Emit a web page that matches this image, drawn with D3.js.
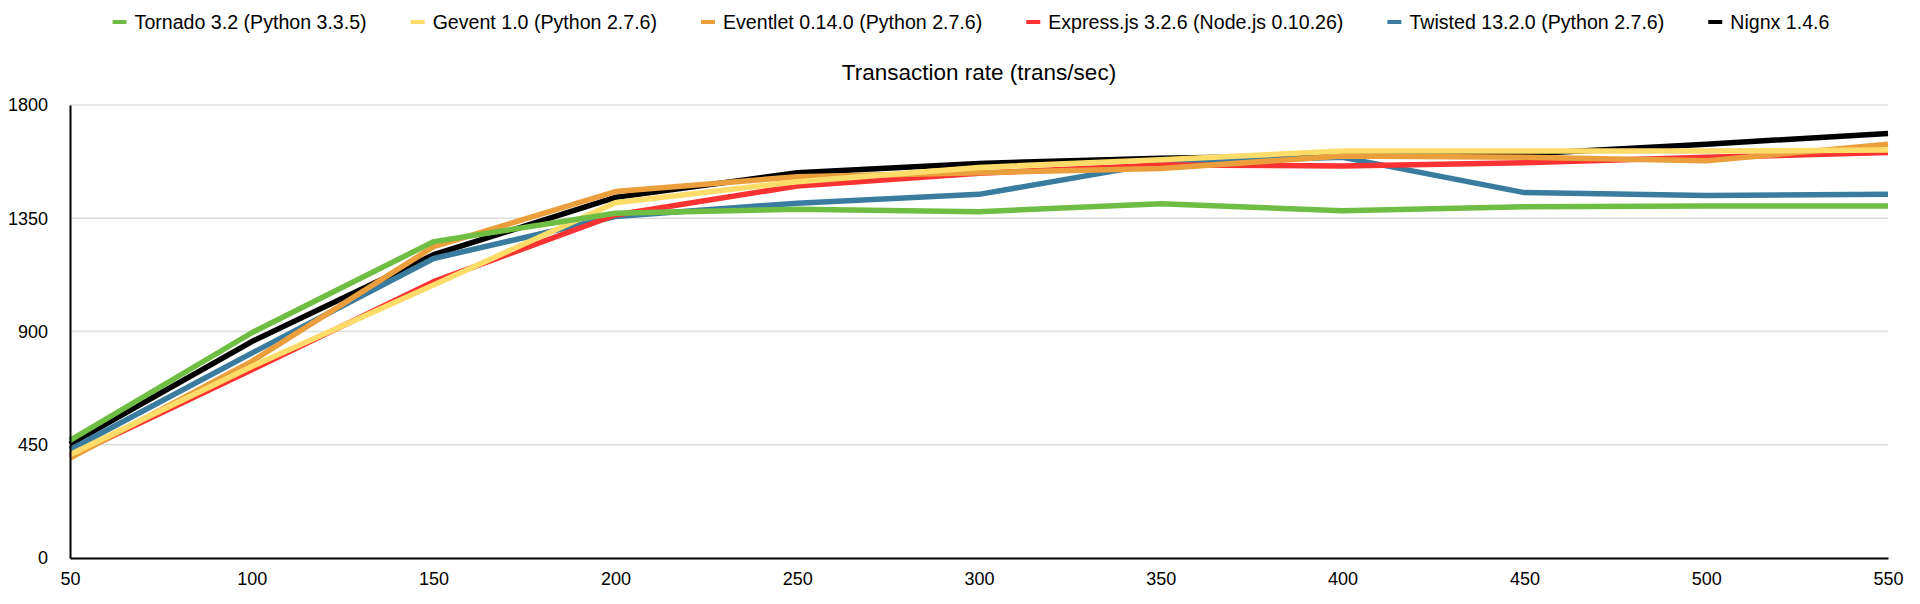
<!DOCTYPE html>
<html>
<head>
<meta charset="utf-8">
<script src="https://cdn.jsdelivr.net/npm/d3@7"></script>
<style>
  body { margin: 0; background: #fff; }
  text { font-family: "Liberation Sans", Arial, Helvetica, sans-serif; fill: #000; }
</style>
</head>
<body>
<svg></svg>
<script>
// concurrency levels on the x axis
const concurrency = [50, 100, 150, 200, 250, 300, 350, 400, 450, 500, 550];
const yTicks = [0, 450, 900, 1350, 1800];

const seriesNames = [
  "Tornado 3.2 (Python 3.3.5)",
  "Gevent 1.0 (Python 2.7.6)",
  "Eventlet 0.14.0 (Python 2.7.6)",
  "Express.js 3.2.6 (Node.js 0.10.26)",
  "Twisted 13.2.0 (Python 2.7.6)",
  "Nignx 1.4.6"
];

// transaction rate (trans/sec)
const tornado  = [467, 895, 1257, 1370, 1386, 1376, 1408, 1380, 1396, 1399, 1399];
const gevent   = [410, 761, 1085, 1412, 1495, 1552, 1582, 1617, 1617, 1617, 1621];
const eventlet = [397, 781, 1237, 1456, 1515, 1531, 1548, 1597, 1592, 1578, 1644];
const express  = [404, 748, 1098, 1363, 1478, 1529, 1562, 1558, 1571, 1592, 1611];
const twisted  = [430, 814, 1190, 1357, 1410, 1445, 1570, 1592, 1452, 1440, 1445];
const nginx    = [452, 860, 1205, 1433, 1531, 1568, 1588, 1600, 1605, 1644, 1687];

const seriesValues = [tornado, gevent, eventlet, express, twisted, nginx];
const colors = ["#6fbe44", "#fddc6a", "#eb9f3c", "#fb3232", "#3a7ca0", "#000000"];

const w = 1920;
const h = 604;
const margin = {top: 105, right: 32, bottom: 46, left: 70};

const xScale = d3.scaleLinear()
                 .domain([50, 550])
                 .range([margin.left, w - margin.right]);

const yScale = d3.scaleLinear()
                 .domain([0, 1800])
                 .range([h - margin.bottom, margin.top]);

const svg = d3.select("svg")
              .attr("width", w)
              .attr("height", h);

// horizontal grid
svg.append("g")
   .selectAll("line")
   .data(yTicks.filter(d => d > 0))
   .enter()
   .append("line")
   .attr("x1", margin.left)
   .attr("x2", w - margin.right)
   .attr("y1", d => yScale(d))
   .attr("y2", d => yScale(d))
   .attr("stroke", "#dedede")
   .attr("stroke-width", 1.5);

// series lines, Nginx underneath, Tornado on top
const line = d3.line()
               .x((d, i) => xScale(concurrency[i]))
               .y(d => yScale(d));

const order = d3.range(seriesValues.length).reverse();
svg.append("g")
   .selectAll("path")
   .data(order)
   .enter()
   .append("path")
   .attr("d", i => line(seriesValues[i]))
   .attr("fill", "none")
   .attr("stroke", i => colors[i])
   .attr("stroke-width", 5.5)
   .attr("stroke-linejoin", "round");

// axes
const yAxis = d3.axisLeft(yScale).tickValues(yTicks).tickFormat(d3.format("d"))
                .tickSize(0).tickPadding(22);
const xAxis = d3.axisBottom(xScale).tickValues(concurrency).tickFormat(d3.format("d"))
                .tickSize(0).tickPadding(14);

const gy = svg.append("g")
   .attr("transform", "translate(" + margin.left + ",0)")
   .call(yAxis);

const gx = svg.append("g")
   .attr("transform", "translate(0," + (h - margin.bottom) + ")")
   .call(xAxis);

[gx, gy].forEach(g => {
  g.select(".domain").attr("stroke", "#000").attr("stroke-width", 2);
  g.selectAll("text").attr("font-size", 18).attr("fill", "#000")
   .style("font-family", "'Liberation Sans', Arial, Helvetica, sans-serif");
});

// title
svg.append("text")
   .attr("x", (margin.left + w - margin.right) / 2)
   .attr("y", 72)
   .attr("dy", "0.35em")
   .attr("text-anchor", "middle")
   .attr("font-size", 22.5)
   .text("Transaction rate (trans/sec)");

// legend
const legend = svg.append("g");
const items = legend.selectAll("g")
   .data(seriesNames)
   .enter()
   .append("g");

items.append("rect")
   .attr("width", 14)
   .attr("height", 4)
   .attr("y", 20)
   .attr("fill", (d, i) => colors[i]);

items.append("text")
   .attr("x", 22)
   .attr("y", 22)
   .attr("dy", "0.35em")
   .attr("font-size", 19.6)
   .text(d => d);

const gap = 44;
const widths = [];
items.each(function() {
  widths.push(22 + d3.select(this).select("text").node().getComputedTextLength());
});
const total = d3.sum(widths) + gap * (widths.length - 1);
let pos = 971 - total / 2;
items.attr("transform", (d, i) => {
  const t = "translate(" + pos + ",0)";
  pos += widths[i] + gap;
  return t;
});
</script>
</body>
</html>
